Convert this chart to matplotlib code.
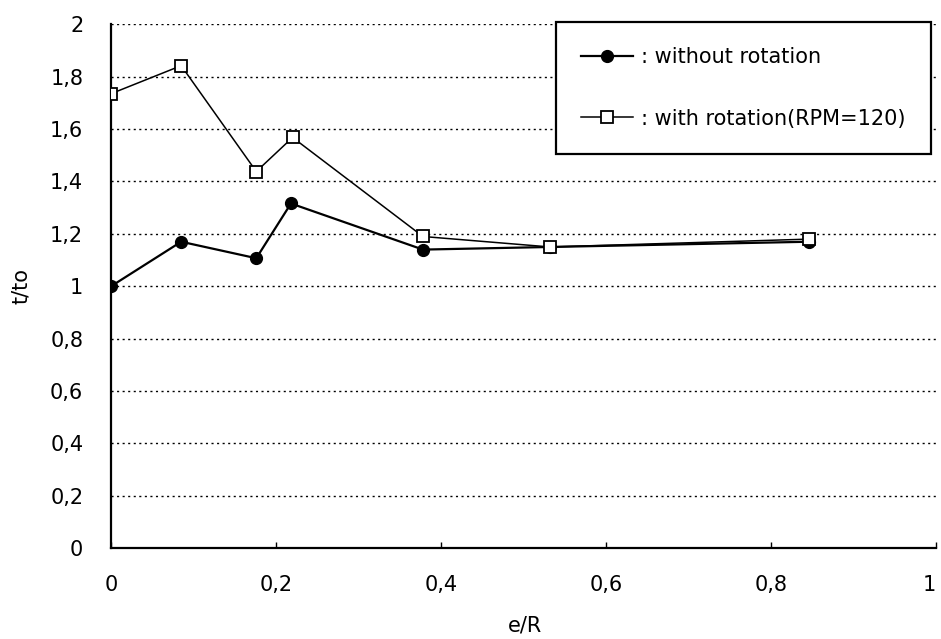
import matplotlib
matplotlib.use("Agg")
import matplotlib.pyplot as plt
from matplotlib.ticker import FuncFormatter

# data
x_without = [0.0, 0.085, 0.176, 0.218, 0.378, 0.532, 0.846]
y_without = [1.0, 1.17, 1.107, 1.316, 1.14, 1.15, 1.17]
x_with = [0.0, 0.085, 0.176, 0.22, 0.378, 0.532, 0.846]
y_with = [1.735, 1.842, 1.438, 1.568, 1.19, 1.15, 1.18]
label_without = ": without rotation"
label_with = ": with rotation(RPM=120)"
x_ticks = [0, 0.2, 0.4, 0.6, 0.8, 1.0]
y_ticks = [0, 0.2, 0.4, 0.6, 0.8, 1.0, 1.2, 1.4, 1.6, 1.8, 2.0]

fig = plt.figure(figsize=(9.41, 6.39), dpi=100)
ax = fig.add_axes([0.118, 0.142, 0.877, 0.820])

ax.plot(x_without, y_without, color="black", lw=1.6, marker="o", ms=8.5,
        mfc="black", mec="black", label=label_without, zorder=3)
ax.plot(x_with, y_with, color="black", lw=1.1, marker="s", ms=8.5,
        mfc="white", mec="black", mew=1.3, label=label_with, zorder=4)

ax.set_xlim(0, 1)
ax.set_ylim(0, 2)
ax.set_xticks(x_ticks)
ax.set_yticks(y_ticks)
fmt = FuncFormatter(lambda v, p: ("%g" % round(v, 2)).replace(".", ","))
ax.xaxis.set_major_formatter(fmt)
ax.yaxis.set_major_formatter(fmt)
ax.tick_params(axis="x", direction="in", length=4, width=1, pad=19, labelsize=15)
ax.tick_params(axis="y", length=0, pad=20, labelsize=15)
for s in ["top", "right"]:
    ax.spines[s].set_visible(False)
for s in ["left", "bottom"]:
    ax.spines[s].set_linewidth(1.6)
ax.yaxis.grid(True, linestyle=(0, (1.5, 2.5)), color="black", lw=1.0)
ax.set_axisbelow(True)

fig.canvas.draw()
xlabels = ax.get_xticklabels()
xlabels[-1].set_horizontalalignment("right")

ax.set_xlabel("e/R", fontsize=15, va="center")
ax.xaxis.set_label_coords(0.502, -0.147)
ax.set_ylabel("t/to", fontsize=15, va="center")
ax.yaxis.set_label_coords(-0.109, 0.5)

leg = ax.legend(loc="upper left", bbox_to_anchor=(556 / 941, 1 - 22 / 639),
                bbox_transform=fig.transFigure, fontsize=15, frameon=True,
                fancybox=False, edgecolor="black", handlelength=2.5,
                handletextpad=0.4, labelspacing=2.0, borderpad=1.2,
                borderaxespad=0)
leg.get_frame().set_linewidth(1.6)
leg.get_frame().set_alpha(1)

fig.savefig("out.png", dpi=100)
